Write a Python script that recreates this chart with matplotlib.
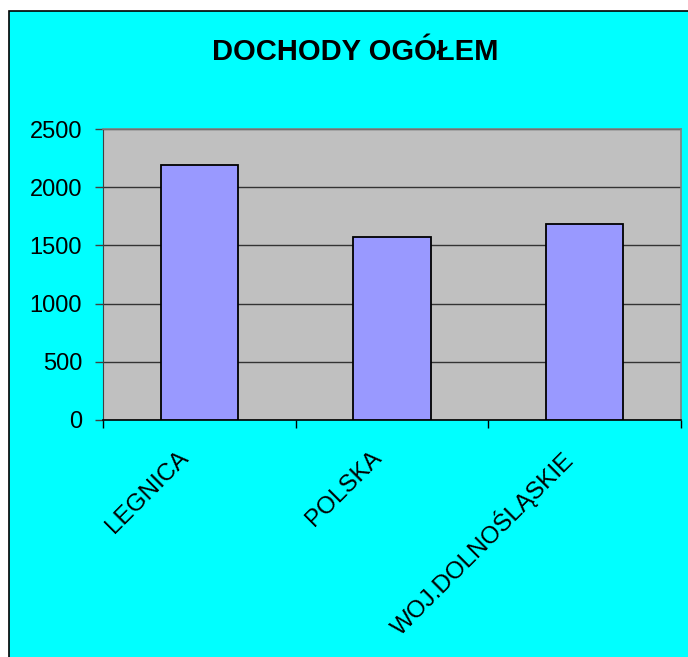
import matplotlib.pyplot as plt
import matplotlib.transforms as mtransforms
from matplotlib.patches import Rectangle

categories = ["LEGNICA", "POLSKA", "WOJ.DOLNOŚLĄSKIE"]
values = [2190, 1570, 1680]
yticks = [0, 500, 1000, 1500, 2000, 2500]

plt.rcParams["font.family"] = ["Liberation Sans", "DejaVu Sans"]

fig = plt.figure(figsize=(6.88, 6.57), dpi=100)
fig.patch.set_facecolor("white")

# cyan chart area with black border (runs off right/bottom edge)
bg = Rectangle((8.5 / 688, -0.1), 1.2, (657 - 10.5) / 657 + 0.1,
               transform=fig.transFigure, facecolor="#00FFFF",
               edgecolor="black", linewidth=1.2, zorder=-1)
fig.add_artist(bg)

ax = fig.add_axes([103 / 688, (657 - 420) / 657, (681 - 103) / 688, (420 - 129) / 657])
ax.set_facecolor("#C0C0C0")

x = list(range(len(categories)))
ax.bar(x, values, width=0.4, color="#9999FF", edgecolor="black", linewidth=1.3, zorder=3)

ax.set_xlim(-0.5, len(categories) - 0.5)
ax.set_ylim(0, 2500)
ax.set_yticks(yticks)
ax.yaxis.grid(True, color="#333333", linewidth=1, zorder=1)
ax.set_axisbelow(True)

for s in ["top", "right"]:
    ax.spines[s].set_color("#808080")
    ax.spines[s].set_linewidth(1.2)
ax.spines["left"].set_color("#404040")
ax.spines["bottom"].set_color("black")
ax.spines["bottom"].set_linewidth(1.2)

ax.tick_params(axis="y", direction="out", length=6, width=1, labelsize=17, pad=9, color="#404040")
ax.set_xticks(x)
ax.set_xticklabels(categories, rotation=45, ha="right", rotation_mode="default", fontsize=17.5)
ax.tick_params(axis="x", which="major", length=0, pad=19)
ax.set_xticks([-0.5, 0.5, 1.5, 2.5], minor=True)
ax.tick_params(axis="x", which="minor", direction="out", length=6, width=1, color="black")

shift = mtransforms.ScaledTranslation(-6 / 100, 0, fig.dpi_scale_trans)
for lab in ax.get_xticklabels():
    lab.set_transform(lab.get_transform() + shift)

fig.text(355 / 688, 1 - 52 / 657, "DOCHODY OGÓŁEM", ha="center", va="center",
         fontsize=21, fontweight="bold")

plt.savefig("out.png", dpi=100)
